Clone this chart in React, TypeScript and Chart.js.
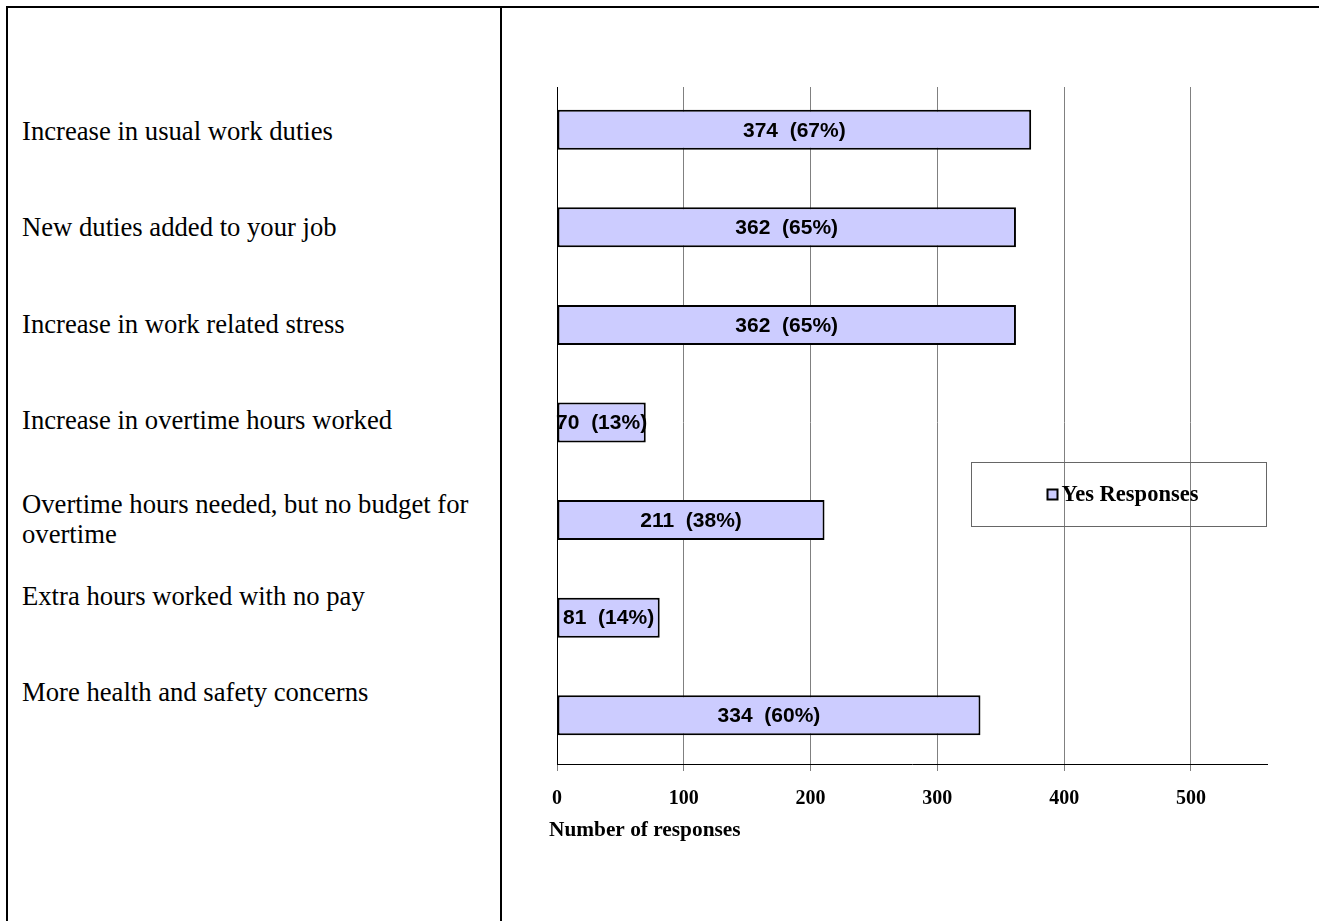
import React, { useEffect, useRef } from "react";
import { Chart, registerables } from "chart.js";

Chart.register(...registerables);

const categories = [
  "Increase in usual work duties",
  "New duties added to your job",
  "Increase in work related stress",
  "Increase in overtime hours worked",
  "Overtime hours needed, but no budget for overtime",
  "Extra hours worked with no pay",
  "More health and safety concerns",
];
const yesValues = [374, 362, 362, 70, 211, 81, 334];
const yesPercents = [67, 65, 65, 13, 38, 14, 60];
const xTicks = [0, 100, 200, 300, 400, 500];
const xMax = 560;
const seriesLabel = "Yes Responses";
const axisTitle = "Number of responses";

// top of each left-column label (page px)
const labelTops = [116, 212, 309, 405, 489, 581, 677];

const BAR_FILL = "#CCCCFF";
const SERIF = "'Liberation Serif', 'Times New Roman', Times, serif";
const SANS = "'Liberation Sans', Arial, Helvetica, sans-serif";

const CANVAS_LEFT = 502;
const CANVAS_TOP = 8;
const CANVAS_W = 817;
const CANVAS_H = 913;

const overlayPlugin = {
  id: "overlay",
  beforeDatasetsDraw(chart: any) {
    // axis and grid lines start a little below the first category band
    const ctx = chart.ctx;
    const area = chart.chartArea;
    ctx.save();
    ctx.fillStyle = "#fff";
    ctx.fillRect(area.left - 2, area.top - 1, area.right - area.left + 4, 7);
    ctx.restore();
  },
  afterDatasetsDraw(chart: any) {
    const ctx = chart.ctx;
    const meta = chart.getDatasetMeta(0);
    ctx.save();
    ctx.font = `bold 21px ${SANS}`;
    ctx.fillStyle = "#000";
    ctx.textAlign = "center";
    ctx.textBaseline = "middle";
    meta.data.forEach((bar: any, i: number) => {
      const cx = (bar.base + bar.x) / 2;
      ctx.fillText(`${yesValues[i]}  (${yesPercents[i]}%)`, cx, bar.y + 1);
    });
    ctx.restore();
  },
  afterDraw(chart: any) {
    const ctx = chart.ctx;
    const area = chart.chartArea;
    ctx.save();
    // axis title
    ctx.font = `bold 21.33px ${SERIF}`;
    ctx.fillStyle = "#000";
    ctx.textAlign = "left";
    ctx.textBaseline = "alphabetic";
    ctx.fillText(axisTitle, area.left - 8, area.bottom + 72);

    // legend
    const bx = area.right - 295.5;
    const by = area.top + 381.5;
    ctx.strokeStyle = "#666";
    ctx.lineWidth = 1;
    ctx.strokeRect(bx, by, 295, 64);
    ctx.fillStyle = BAR_FILL;
    ctx.fillRect(bx + 76, by + 27, 10, 10);
    ctx.strokeStyle = "#000";
    ctx.lineWidth = 2;
    ctx.strokeRect(bx + 76, by + 27, 10, 10);
    ctx.fillStyle = "#000";
    ctx.font = `bold 22.5px ${SERIF}`;
    ctx.textBaseline = "middle";
    ctx.fillText(seriesLabel, bx + 90, by + 33);
    ctx.restore();
  },
};

function BarChart() {
  const ref = useRef<HTMLCanvasElement | null>(null);
  useEffect(() => {
    if (!ref.current) return;
    const chart = new Chart(ref.current, {
      type: "bar",
      data: {
        labels: categories,
        datasets: [
          {
            label: seriesLabel,
            data: yesValues,
            backgroundColor: BAR_FILL,
            borderColor: "#000",
            borderWidth: 2,
            borderSkipped: false,
            categoryPercentage: 1,
            barPercentage: 0.41,
          },
        ],
      },
      options: {
        indexAxis: "y",
        responsive: false,
        animation: false,
        devicePixelRatio: 1,
        layout: { padding: { left: 55, top: 73, right: 52, bottom: 87 } },
        plugins: {
          legend: { display: false },
          tooltip: { enabled: false },
        },
        scales: {
          x: {
            type: "linear",
            position: "bottom",
            min: 0,
            max: xMax,
            afterBuildTicks: (axis: any) => {
              axis.ticks = xTicks.map((v) => ({ value: v }));
            },
            afterFit: (s: any) => {
              s.height = 70;
            },
            grid: {
              color: "#808080",
              lineWidth: 1,
              tickColor: "#808080",
              tickLength: 7,
            },
            border: { display: true, color: "#000", width: 1 },
            ticks: {
              padding: 16,
              color: "#000",
              font: { family: SERIF, size: 20, weight: "bold" },
              maxRotation: 0,
            },
          },
          y: {
            type: "category",
            offset: true,
            afterFit: (s: any) => {
              s.width = 0;
            },
            grid: { display: false, drawTicks: false },
            border: { display: true, color: "#000", width: 1 },
            ticks: { display: false },
          },
        },
      },
      plugins: [overlayPlugin],
    } as any);
    return () => chart.destroy();
  }, []);
  return (
    <canvas
      ref={ref}
      width={CANVAS_W}
      height={CANVAS_H}
      style={{
        position: "absolute",
        left: CANVAS_LEFT,
        top: CANVAS_TOP,
        width: CANVAS_W,
        height: CANVAS_H,
      }}
    />
  );
}

export default function App() {
  return (
    <div
      style={{
        position: "absolute",
        left: 0,
        top: 0,
        width: 1319,
        height: 921,
        overflow: "hidden",
        background: "#fff",
      }}
    >
      {/* table borders */}
      <div style={{ position: "absolute", left: 6, top: 6, width: 1313, height: 2, background: "#000" }} />
      <div style={{ position: "absolute", left: 6, top: 6, width: 2, height: 915, background: "#000" }} />
      <div style={{ position: "absolute", left: 500, top: 6, width: 2, height: 915, background: "#000" }} />
      {categories.map((c, i) => (
        <div
          key={c}
          style={{
            position: "absolute",
            left: 22,
            top: labelTops[i],
            width: 470,
            fontFamily: SERIF,
            fontSize: "26.67px",
            lineHeight: "30px",
            color: "#000",
          }}
        >
          {c}
        </div>
      ))}
      <BarChart />
    </div>
  );
}
